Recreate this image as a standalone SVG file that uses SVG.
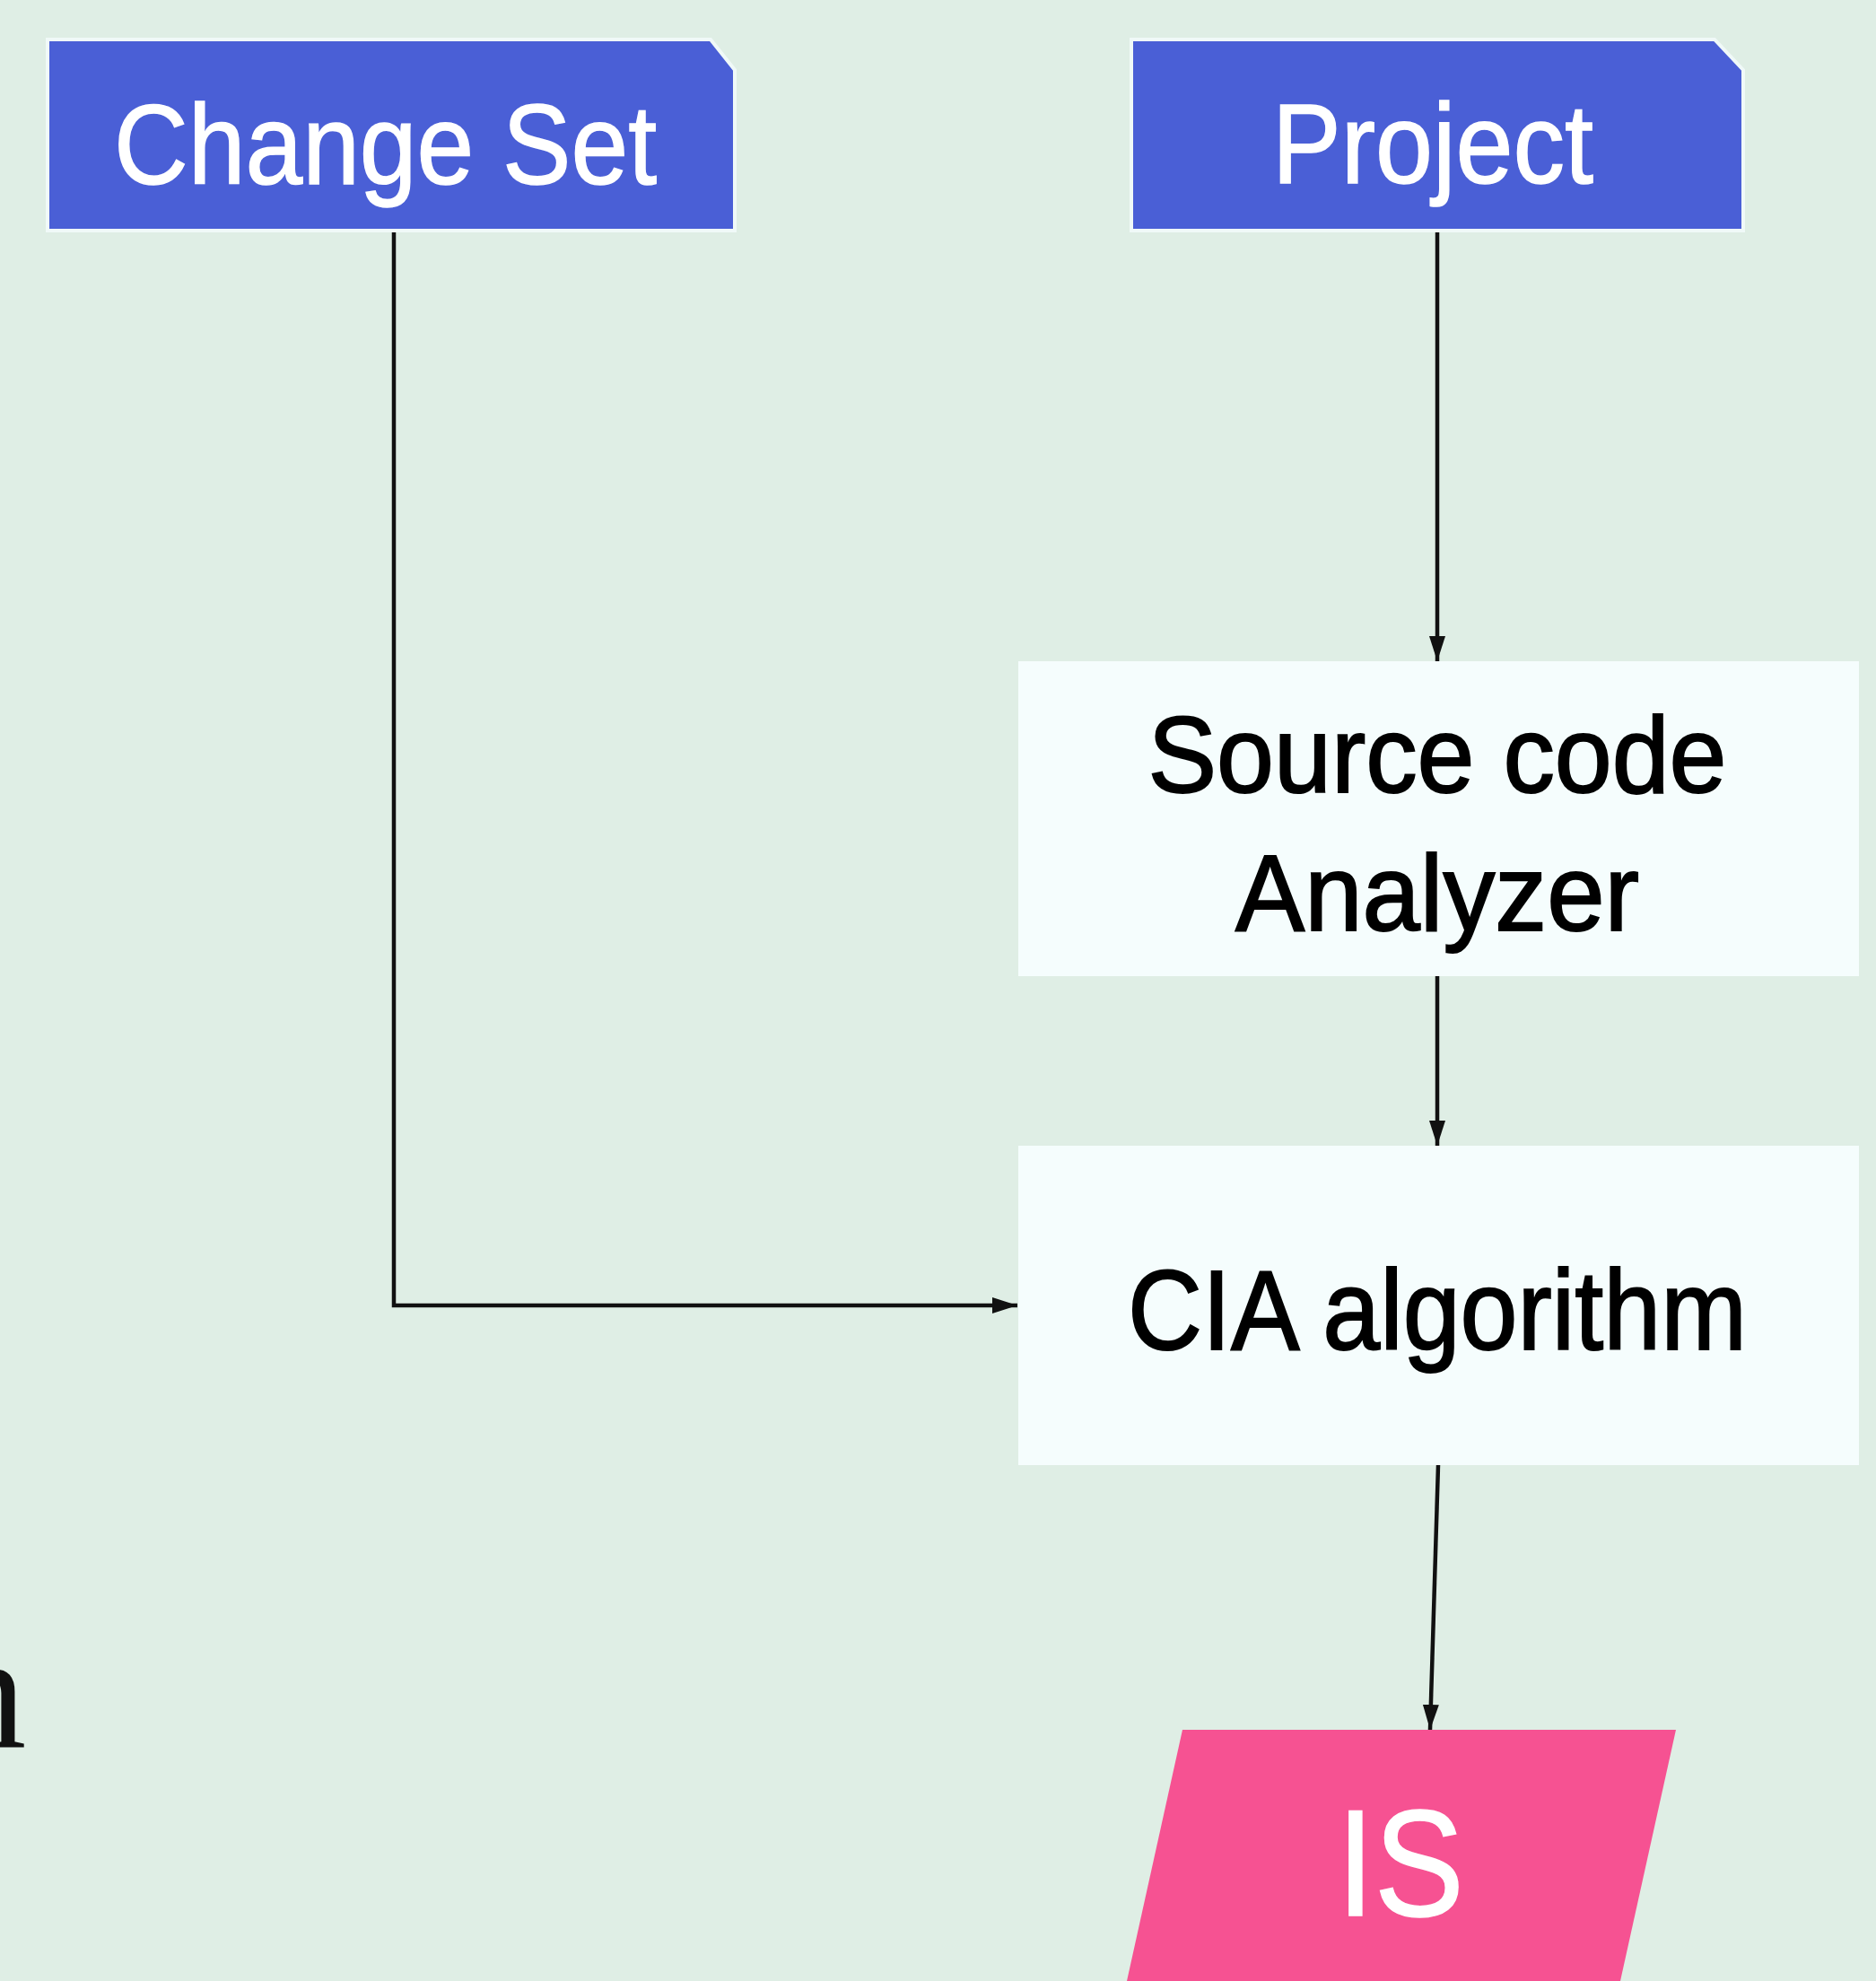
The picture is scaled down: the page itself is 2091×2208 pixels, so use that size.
<svg xmlns="http://www.w3.org/2000/svg" width="2091" height="2208" viewBox="0 0 2091 2208">
<style>
.bg{fill:#dfeee5}
.blue{fill:#4a5fd6;stroke:#f0f9f8;stroke-width:4}
.wbox{fill:#f5fdfd}
.pink{fill:#f65292}
.lbl{font-family:"Liberation Sans",Arial,sans-serif}
.wt{fill:#ffffff;stroke:#ffffff;stroke-width:1.5}
.bk{fill:#000000;stroke:#000000;stroke-width:2}
.edge{fill:none;stroke:#111111;stroke-width:4.5}
</style>
<defs>
<marker id="ah" markerUnits="userSpaceOnUse" markerWidth="30" markerHeight="20" refX="28" refY="9" orient="auto">
<path d="M0,0 L28,9 L0,18 z" fill="#111111"/>
</marker>
</defs>
<rect class="bg" x="0" y="0" width="2091" height="2208"/>
<text x="-63" y="1947" font-family="'Liberation Serif',serif" font-size="185" fill="#111111">n</text>
<g id="change-set">
<polygon class="blue" points="53,44 792,44 819,78 819,257 53,257"/>
<text class="lbl wt" x="127" y="205" font-size="127" textLength="605" lengthAdjust="spacingAndGlyphs">Change Set</text>
</g>
<g id="project">
<polygon class="blue" points="1261,44 1911,44 1943,78 1943,257 1261,257"/>
<text class="lbl wt" x="1418" y="204" font-size="126" textLength="358" lengthAdjust="spacingAndGlyphs">Project</text>
</g>
<g id="source-code-analyzer">
<rect class="wbox" x="1135" y="737" width="937" height="351"/>
<text class="lbl bk" x="1602" y="883" font-size="121" text-anchor="middle" textLength="645" lengthAdjust="spacingAndGlyphs">Source code</text>
<text class="lbl bk" x="1602" y="1037" font-size="121" text-anchor="middle" textLength="450" lengthAdjust="spacingAndGlyphs">Analyzer</text>
</g>
<g id="cia-algorithm">
<rect class="wbox" x="1135" y="1277" width="937" height="356"/>
<text class="lbl bk" x="1602" y="1504" font-size="126" text-anchor="middle" textLength="690" lengthAdjust="spacingAndGlyphs">CIA algorithm</text>
</g>
<g id="is">
<polygon class="pink" points="1318,1928 1868,1928 1806,2208 1256,2208"/>
<text class="lbl wt" x="1490" y="2135" font-size="168" textLength="142" lengthAdjust="spacingAndGlyphs">IS</text>
</g>
<g id="connectors">
<path class="edge" d="M439,259 L439,1455 L1134,1455" marker-end="url(#ah)"/>
<path class="edge" d="M1602,259 L1602,737" marker-end="url(#ah)"/>
<path class="edge" d="M1602,1088 L1602,1277" marker-end="url(#ah)"/>
<path class="edge" d="M1603,1633 L1594,1928" marker-end="url(#ah)"/>
</g>
</svg>
